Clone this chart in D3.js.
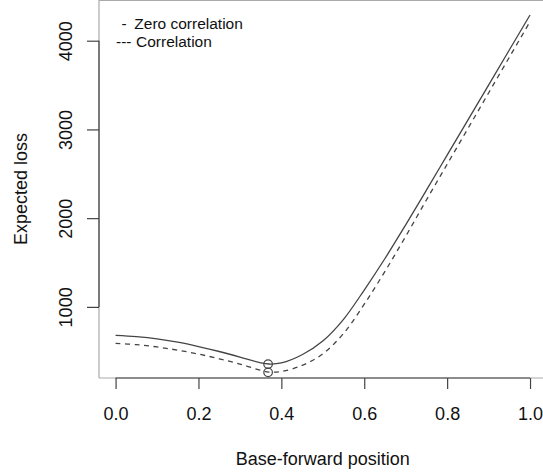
<!DOCTYPE html>
<html>
<head>
<meta charset="utf-8">
<script src="https://cdn.jsdelivr.net/npm/d3@7"></script>
<style>
  body { margin: 0; background: #fff; }
  text { font-family: "Liberation Sans", Arial, sans-serif; fill: #111; }
</style>
</head>
<body>
<div id="chart"></div>
<script>
// positions along the base-forward axis
const positions = [0, 0.05, 0.1, 0.15, 0.2, 0.25, 0.3, 0.35, 0.37, 0.4, 0.45, 0.5, 0.55, 0.6, 0.65, 0.7, 0.75, 0.8, 0.85, 0.9, 0.95, 1.0];
const zeroCorr = [678, 664, 640, 602, 553, 497, 435, 370, 356, 368, 460, 615, 860, 1190, 1545, 1925, 2315, 2710, 3105, 3500, 3895, 4290];
const withCorr = [588, 574, 548, 512, 468, 415, 355, 285, 265, 272, 340, 470, 700, 1030, 1400, 1795, 2205, 2607, 3009, 3411, 3813, 4215];
// minima marked with open circles
const minima = [{ x: 0.368, y: 355 }, { x: 0.368, y: 262 }];
const xTicks = [0, 0.2, 0.4, 0.6, 0.8, 1.0];
const yTicks = [1000, 2000, 3000, 4000];
const legendLabels = [{ sym: "-", label: "Zero correlation" }, { sym: "---", label: "Correlation" }];

const W = 543, H = 474;
const svg = d3.select("#chart").append("svg")
    .attr("width", W)
    .attr("height", H);

const x = d3.scaleLinear().domain([-0.04, 1.04]).range([99, 546.6]);
const y = d3.scaleLinear().domain([0, 4000]).range([395.6, 40.7]);
const bottom = 378, left = 99;

// plot box (light)
svg.append("path")
    .attr("d", `M${left},${bottom}V0.5H${W}`)
    .attr("fill", "none").attr("stroke", "#aaa").attr("stroke-width", 1.2);
svg.append("line")
    .attr("x1", left).attr("x2", W).attr("y1", bottom).attr("y2", bottom)
    .attr("stroke", "#aaa").attr("stroke-width", 1.2);

// x axis
const xAxis = svg.append("g")
    .attr("transform", `translate(0,${bottom})`)
    .call(d3.axisBottom(x).tickValues(xTicks).tickFormat(d3.format(".1f")).tickSize(11).tickPadding(18));
xAxis.select(".domain").attr("d", `M${x(0)},0H${x(1)}`);
xAxis.selectAll("path, line").attr("stroke", "#444").attr("stroke-width", 1.2);
xAxis.selectAll("text").attr("font-size", 18).attr("font-family", null).attr("fill", "#111");

// y axis
const yAxis = svg.append("g")
    .attr("transform", `translate(${left},0)`)
    .call(d3.axisLeft(y).tickValues(yTicks).tickFormat(d3.format("d")).tickSize(12));
yAxis.select(".domain").attr("d", `M0,${y(1000)}V${y(4000)}`);
yAxis.selectAll("path, line").attr("stroke", "#444").attr("stroke-width", 1.2);
yAxis.selectAll("text")
    .attr("font-size", 18).attr("font-family", null).attr("fill", "#111")
    .attr("x", null).attr("dy", null).attr("y", null)
    .attr("text-anchor", "middle")
    .attr("transform", "translate(-27,0) rotate(-90)");

const line = d3.line()
    .x((d, i) => x(positions[i]))
    .y(d => y(d))
    .curve(d3.curveCatmullRom.alpha(0.5));

svg.append("path")
    .datum(zeroCorr)
    .attr("fill", "none").attr("stroke", "#444").attr("stroke-width", 1.3)
    .attr("d", line);

svg.append("path")
    .datum(withCorr)
    .attr("fill", "none").attr("stroke", "#444").attr("stroke-width", 1.3)
    .attr("stroke-dasharray", "5,4.5")
    .attr("d", line);

svg.selectAll(".minpt")
    .data(minima)
    .join("circle")
    .attr("class", "minpt")
    .attr("cx", d => x(d.x)).attr("cy", d => y(d.y)).attr("r", 4.3)
    .attr("fill", "none").attr("stroke", "#444").attr("stroke-width", 1.2);

// legend (text only)
const lg = svg.append("g");
lg.selectAll(".sym")
    .data(legendLabels)
    .join("text")
    .attr("x", (d, i) => i === 0 ? 121.5 : 116)
    .attr("y", (d, i) => 29.3 + i * 17.4)
    .attr("font-size", 15.5)
    .text(d => d.sym);
lg.selectAll(".lab")
    .data(legendLabels)
    .join("text")
    .attr("x", (d, i) => i === 0 ? 134.3 : 136)
    .attr("y", (d, i) => 29.3 + i * 17.4)
    .attr("font-size", 15.5)
    .text(d => d.label);

// axis titles
svg.append("text")
    .attr("x", 322.8).attr("y", 465)
    .attr("text-anchor", "middle")
    .attr("font-size", 18)
    .text("Base-forward position");

svg.append("text")
    .attr("transform", `translate(27,189) rotate(-90)`)
    .attr("text-anchor", "middle")
    .attr("font-size", 18)
    .text("Expected loss");
</script>
</body>
</html>
